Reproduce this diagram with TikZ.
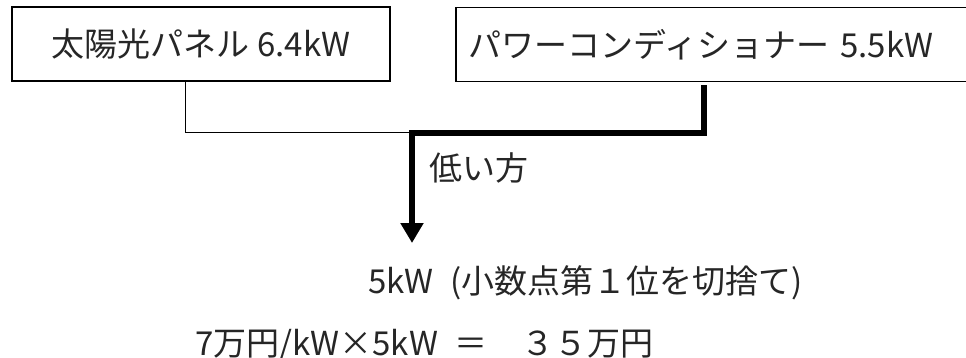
\documentclass[tikz,border=0pt]{standalone}
\usepackage{fontspec}
\setmainfont{Noto Sans CJK JP}
\usetikzlibrary{arrows.meta}
\definecolor{txt}{HTML}{262626}
\begin{document}
\begin{tikzpicture}[x=1pt,y=-1pt,
  lbl/.style={font=\fontsize{33}{39}\selectfont, text=txt, inner sep=0pt, anchor=base west},
  boxnode/.style={draw=black, line width=1.5pt, font=\fontsize{33}{39}\selectfont, text=txt, minimum height=74pt},
  thinline/.style={line width=1pt, black},
  boldline/.style={line width=6.5pt, black, line join=miter, -{Triangle[width=22pt,length=20pt]}}]
\useasboundingbox (0,0) rectangle (966,358);
\clip (0,0) rectangle (966,358);
\node[boxnode, minimum width=378pt] (pv) at (201,44) {太陽光パネル 6.4kW};
\node[boxnode, anchor=north west, text width=500pt, align=left, inner xsep=13pt] (pc) at (455,7) {パワーコンディショナー 5.5kW};
\coordinate (j) at (412,133);
\coordinate (tip) at (412,243);
\draw[thinline] ([xshift=-16pt]pv.south) |- (j);
\draw[boldline] ([xshift=249pt,yshift=-3pt]pc.south west) |- (j) -- (tip);
\node[lbl] (low) at (429,181) {低い方};
\node[lbl] (res) at (368,293) {5kW\hspace{9pt} (小数点第１位を切捨て)};
\node[lbl] (calc) at (195,355) {7万円/kW×5kW\hspace{16pt}＝\hspace{34pt}３５万円};
\end{tikzpicture}
\end{document}
